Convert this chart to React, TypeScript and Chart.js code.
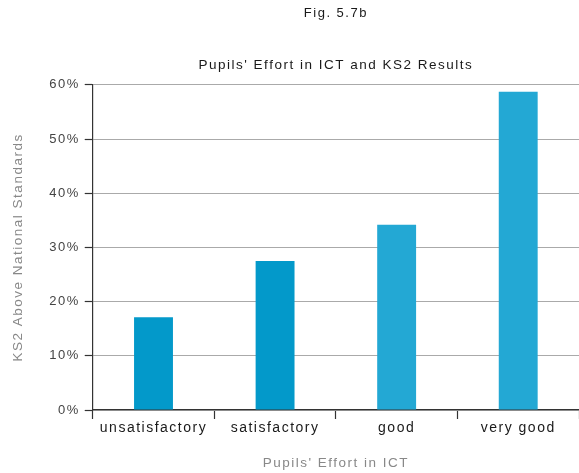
import React, { useEffect, useRef } from "react";
import { Chart, registerables } from "chart.js";

Chart.register(...registerables);

const figLabel = "Fig. 5.7b";
const chartTitle = "Pupils' Effort in ICT and KS2 Results";
const xAxisTitle = "Pupils' Effort in ICT";
const yAxisTitle = "KS2 Above National Standards";
const categories = ["unsatisfactory", "satisfactory", "good", "very good"];
const values = [17.1, 27.5, 34.2, 58.7];
const barColors = ["#0399ca", "#0399ca", "#23a8d4", "#23a8d4"];
const yTicks = [0, 10, 20, 30, 40, 50, 60];

const FONT = "'Liberation Sans', Arial, Helvetica, sans-serif";
const SPACING = "1.5px";

const spacingPlugin = {
  id: "letterSpacing",
  beforeUpdate(chart: any) {
    chart.ctx.letterSpacing = SPACING;
  },
  beforeLayout(chart: any) {
    chart.ctx.letterSpacing = SPACING;
  },
  beforeDraw(chart: any) {
    chart.ctx.letterSpacing = SPACING;
  },
};

export default function App() {
  const ref = useRef<HTMLCanvasElement | null>(null);

  useEffect(() => {
    const canvas = ref.current;
    if (!canvas) return;
    const ctx = canvas.getContext("2d") as any;
    if (ctx) ctx.letterSpacing = SPACING;
    const chart = new Chart(canvas, {
      type: "bar",
      data: {
        labels: categories,
        datasets: [
          {
            data: values,
            backgroundColor: barColors,
            borderWidth: 0,
            barPercentage: 0.32,
            categoryPercentage: 1,
          },
        ],
      },
      plugins: [spacingPlugin],
      options: {
        responsive: false,
        animation: false,
        devicePixelRatio: 1,
        layout: { padding: { left: 6, right: 0, top: 0, bottom: 0 } },
        plugins: {
          legend: { display: false },
          tooltip: { enabled: false },
          title: {
            display: true,
            text: figLabel,
            fullSize: false,
            color: "#1a1a1a",
            font: { family: FONT, size: 13, weight: "normal" },
            padding: { top: 6, bottom: 36 },
          },
          subtitle: {
            display: true,
            text: chartTitle,
            fullSize: false,
            color: "#1a1a1a",
            font: { family: FONT, size: 13.5, weight: "normal" },
            padding: { top: 0, bottom: 11 },
          },
        },
        scales: {
          x: {
            grid: {
              display: true,
              offset: true,
              drawOnChartArea: false,
              drawTicks: true,
              tickLength: 9,
              tickColor: "#333",
              tickWidth: 1.2,
            },
            border: { display: true, color: "#333", width: 1.2 },
            ticks: {
              color: "#1a1a1a",
              font: { family: FONT, size: 14 },
              padding: 1,
              maxRotation: 0,
            },
            title: {
              display: true,
              text: xAxisTitle,
              color: "#888",
              font: { family: FONT, size: 13.5 },
              padding: { top: 17, bottom: 2 },
            },
          },
          y: {
            min: 0,
            max: 60,
            afterBuildTicks(axis: any) {
              axis.ticks = yTicks.map((v) => ({ value: v }));
            },
            grid: {
              color: "#aaaaaa",
              lineWidth: 1,
              tickLength: 8,
              tickColor: "#333",
              tickWidth: 1.2,
            },
            border: { display: true, color: "#333", width: 1.2 },
            ticks: {
              color: "#444",
              font: { family: FONT, size: 13 },
              padding: 5,
              callback: (v: any) => v + "%",
            },
            title: {
              display: true,
              text: yAxisTitle,
              color: "#888",
              font: { family: FONT, size: 13.5 },
              padding: { top: 4, bottom: 18 },
            },
          },
        },
      },
    } as any);
    return () => chart.destroy();
  }, []);

  return (
    <div style={{ position: "fixed", left: 0, top: 0, width: 579, height: 473, background: "#fff" }}>
      <canvas ref={ref} width={579} height={473} style={{ display: "block" }} />
    </div>
  );
}
